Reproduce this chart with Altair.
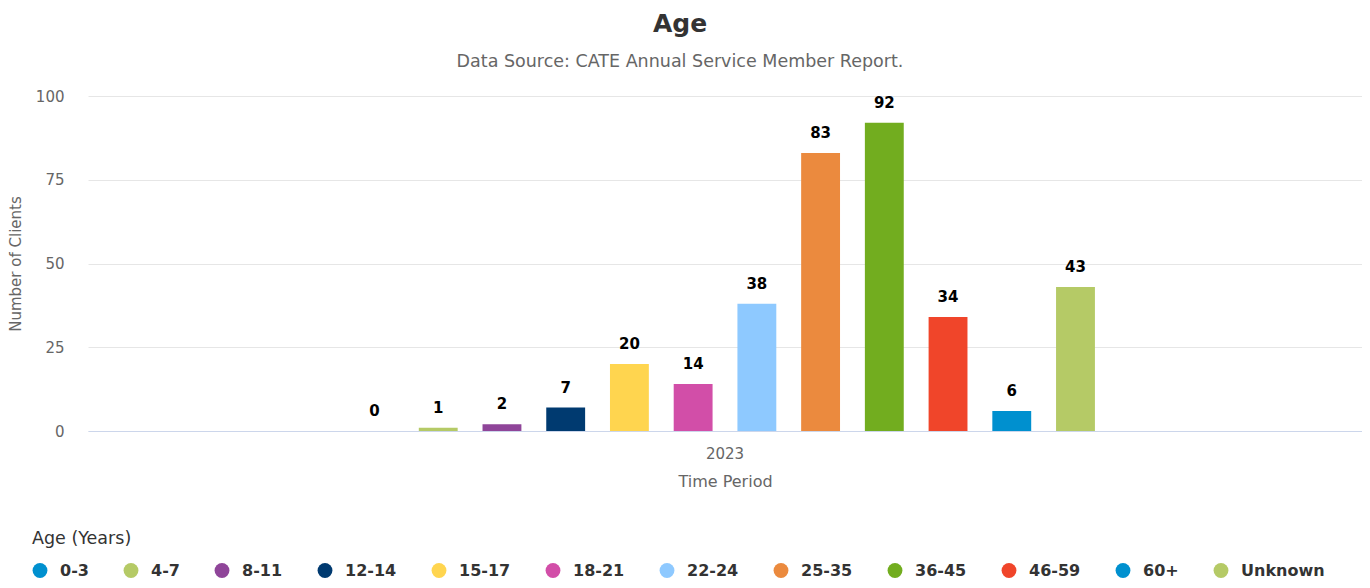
import altair as alt
import pandas as pd

periods = ["2023"] * 12
ages = ["0-3", "4-7", "8-11", "12-14", "15-17", "18-21", "22-24", "25-35", "36-45", "46-59", "60+", "Unknown"]
counts = [0, 1, 2, 7, 20, 14, 38, 83, 92, 34, 6, 43]
colors = ["#0090cf", "#b5ca66", "#8f4599", "#003a70", "#ffd54f", "#d24ea8",
          "#8ec9ff", "#eb8a3e", "#72ad1f", "#f0452a", "#0090cf", "#b5ca66"]

df = pd.DataFrame({"Period": periods, "Age": ages, "Count": counts})

FONT = "DejaVu Sans"

x_enc = alt.X("Period:N", title="Time Period",
              scale=alt.Scale(paddingInner=0, paddingOuter=0.333),
              axis=alt.Axis(labelAngle=0, labelFontSize=15, labelColor="#666666",
                            titleFontSize=16, titleColor="#666666", titleFontWeight="normal",
                            domainColor="#ccd6eb", ticks=False, labelPadding=15,
                            titlePadding=12, grid=False))
xo_enc = alt.XOffset("Age:N", sort=ages,
                     scale=alt.Scale(paddingInner=0.39, paddingOuter=0.195))
y_enc = alt.Y("Count:Q", title="Number of Clients",
              scale=alt.Scale(domain=[0, 100]),
              axis=alt.Axis(values=[0, 25, 50, 75, 100], labelFontSize=15,
                            labelColor="#666666", titleFontSize=15, titleColor="#666666",
                            titleFontWeight="normal", domain=False, ticks=False,
                            labelPadding=24, titlePadding=12, gridColor="#e6e6e6"))

bars = alt.Chart(df).mark_bar().encode(
    x=x_enc,
    xOffset=xo_enc,
    y=y_enc,
    color=alt.Color("Age:N", sort=ages,
                    scale=alt.Scale(domain=ages, range=colors),
                    legend=alt.Legend(title="Age (Years)", orient="none",
                                      legendX=-56, legendY=434, direction="horizontal",
                                      columns=12, symbolType="circle", symbolSize=220,
                                      symbolStrokeWidth=0, labelFontSize=16,
                                      labelFontWeight="bold", labelColor="#333333",
                                      titleFontSize=17.5, titleFontWeight="normal",
                                      titleColor="#333333", titlePadding=15,
                                      labelOffset=12, columnPadding=34)),
)

labels = alt.Chart(df).mark_text(baseline="alphabetic", dy=-15, fontSize=15,
                                 fontWeight="bold", color="#000000", font=FONT).encode(
    x=alt.X("Period:N"),
    xOffset=alt.XOffset("Age:N", sort=ages),
    y=alt.Y("Count:Q"),
    text=alt.Text("Count:Q"),
)

chart = alt.layer(bars, labels).properties(
    width=1274, height=335,
    title=alt.TitleParams(text="Age",
                          subtitle="Data Source: CATE Annual Service Member Report.",
                          anchor="middle", fontSize=25, fontWeight="bold",
                          color="#333333", subtitleFontSize=17.5, subtitleColor="#666666",
                          subtitlePadding=16, offset=19, dx=-45, font=FONT,
                          subtitleFont=FONT),
    autosize=alt.AutoSizeParams(type="none"),
    padding={"left": 80, "top": 88, "right": 0, "bottom": 149},
).configure(font=FONT).configure_view(stroke=None)

chart.save("out.html", embed_options={"renderer": "svg", "actions": False})
